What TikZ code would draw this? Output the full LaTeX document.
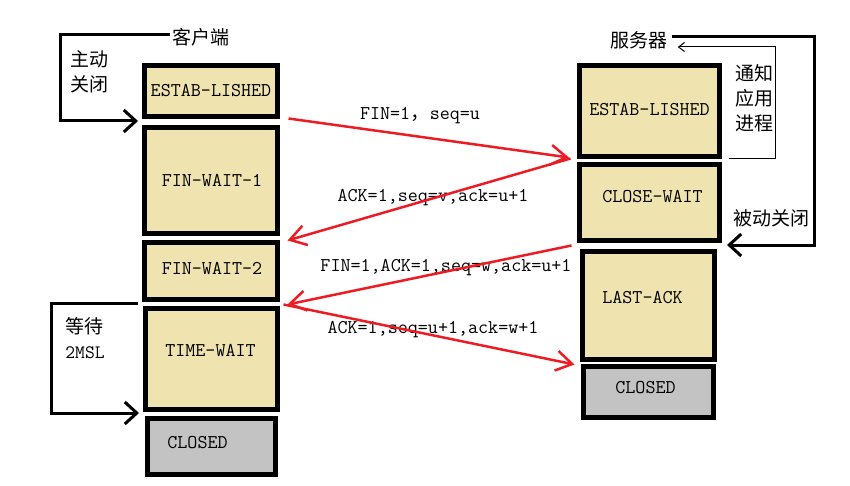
\documentclass[tikz,border=0pt]{standalone}
\usepackage{fontspec}
\newfontfamily\cjk{Noto Sans CJK SC}
\usetikzlibrary{arrows.meta}
\definecolor{paintyellow}{RGB}{239,228,176}
\definecolor{paintgray}{RGB}{195,195,195}
\definecolor{paintred}{RGB}{237,28,36}
\tikzset{
  state/.style={draw=black, line width=5pt, inner sep=0pt},
  msg/.style={font=\ttfamily\fontsize{19.5}{24}\selectfont, inner sep=0pt},
  note/.style={font=\cjk\fontsize{19}{25}\selectfont, inner sep=0pt, align=left},
  redarrow/.style={draw=paintred, line width=2.5pt, -{Straight Barb[length=16pt,width=20pt]}},
  bracket/.style={line width=3pt, -{Straight Barb[length=12pt,width=22pt]}},
  thinbracket/.style={line width=1pt, -{Straight Barb[length=6pt,width=9pt]}}
}
\begin{document}
\begin{tikzpicture}[x=1pt,y=-1pt]
    \useasboundingbox (0,0) rectangle (850,486);
    % Các trạng thái phía khách
    \foreach \n/\x/\y/\w/\h/\dx/\dy/\c/\t in {
        lEst/211/91/133/51/0/0/paintyellow/ESTAB-LISHED,
        lFw1/211/180.5/133/106/1/0/paintyellow/FIN-WAIT-1,
        lFw2/211/271/133/57/1/3/paintyellow/FIN-WAIT-2,
        lTw/211.5/359/132/101/-1/9/paintyellow/TIME-WAIT,
        lCl/211.5/446.5/128/56/-14/4/paintgray/CLOSED}
    \node[state, fill=\c, minimum width=\w, minimum height=\h,
        label={[msg, xshift=\dx, yshift=\dy]center:\t}] (\n) at (\x,\y) {};
    
    % Các trạng thái phía máy chủ
    \foreach \n/\x/\y/\w/\h/\dx/\dy/\c/\t in {
        rEst/649.5/111/140/91/0/1/paintyellow/ESTAB-LISHED,
        rCw/649.5/202.5/140/76/3/6/paintyellow/CLOSE-WAIT,
        rLa/648.5/305.5/132/108/-6/8/paintyellow/LAST-ACK,
        rCl/648.5/392/130/51/-3/4/paintgray/CLOSED}
    \node[state, fill=\c, minimum width=\w, minimum height=\h,
        label={[msg, xshift=\dx, yshift=\dy]center:\t}] (\n) at (\x,\y) {};
    
    % Tiêu đề và chú thích
    \node[note] (cliLbl) at (201,37) {客户端};
    \node[note] (srvLbl) at (639,40) {服务器};
    \node[note] (actLbl) at (89,72) {主动\\关闭};
    \node[note] (ntfLbl) at (754,98) {通知\\应用\\进程};
    \node[note] (psvLbl) at (771,218) {被动关闭};
    \node[note] (waitLbl) at (85,338) {等待\\{\ttfamily 2MSL}};
    
    % Nội dung các gói tin
    \node[msg] (m1) at (420,116) {FIN=1{\cjk ，}seq=u};
    \node[msg] (m2) at (433,198) {ACK=1,seq=v,ack=u+1};
    \node[msg] (m3) at (446,268) {FIN=1,ACK=1,seq=w,ack=u+1};
    \node[msg] (m4) at (433,330) {ACK=1,seq=u+1,ack=w+1};
    
    % Mũi tên đỏ
    \draw[redarrow] ([xshift=8.5pt,yshift=0.5pt]lEst.south east) -- ([xshift=-8pt,yshift=1.5pt]rEst.south west);
    \draw[redarrow] ([xshift=-6.5pt,yshift=3.5pt]rCw.north west) -- ([xshift=7.5pt,yshift=-4.5pt]lFw1.south east);
    \draw[redarrow] ([xshift=-5.5pt,yshift=-2.5pt]rCw.south west) -- ([xshift=7.5pt,yshift=-2.5pt]lFw2.south east);
    \draw[redarrow] ([xshift=3.5pt,yshift=1.5pt]lTw.north east) -- ([xshift=-5.5pt,yshift=-2.5pt]rLa.south west);
    
    % Đường gấp khúc màu đen
    \draw[bracket] ([xshift=-2pt,yshift=2pt]cliLbl.west) -| ([xshift=-82pt,yshift=-2pt]lEst.south west)
        -- ([xshift=-4pt,yshift=-2pt]lEst.south west);
    \draw[bracket] ([xshift=4pt,yshift=3pt]srvLbl.east) -| ([xshift=92pt,yshift=-2pt]rCw.south east)
        -- ([xshift=5pt,yshift=-2pt]rCw.south east);
    \draw[thinbracket] ([xshift=7pt]rEst.south east) -- ++(46,0) |- ([xshift=10pt,yshift=-7pt]srvLbl.east);
    \draw[bracket] ([xshift=-5pt,yshift=3pt]lTw.north west) -| ([xshift=-92pt,yshift=-1pt]lTw.south west)
        -- ([xshift=-4pt,yshift=-1pt]lTw.south west);
\end{tikzpicture}
\end{document}
